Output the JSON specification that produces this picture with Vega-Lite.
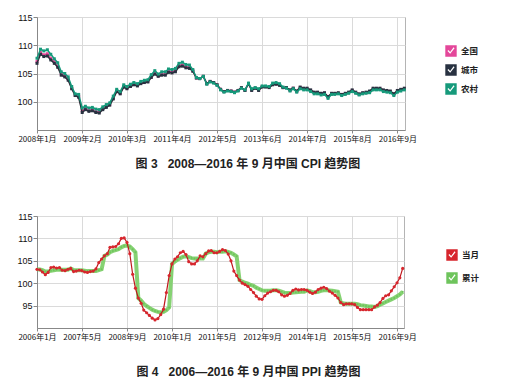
{
"$schema": "https://vega.github.io/schema/vega-lite/v6.json",
"background": "white",
"padding": {"left": 16, "top": 12, "right": 5, "bottom": 0},
"spacing": 40,
"resolve": {"scale": {"x": "independent", "y": "independent", "color": "independent"}, "axis": {"x": "independent", "y": "independent"}, "legend": {"color": "independent"}},
"config": {
  "font": "'Liberation Sans Narrow', 'Noto Sans CJK SC'",
  "view": {"stroke": "#b4b4b4"},
  "axis": {"labelFont": "'Liberation Sans Narrow', 'Noto Sans CJK SC'", "labelFontSize": 8, "labelColor": "#111", "gridColor": "#dadada", "domainColor": "#888", "tickColor": "#888", "tickSize": 3, "labelPadding": 2},
  "axisY": {"labelFont": "'Liberation Sans', 'Noto Sans CJK SC'", "labelFontSize": 9, "labelOverlap": false, "tickSize": 4, "labelPadding": 1},
  "legend": {"padding": 0, "labelFont": "'Noto Sans CJK SC'", "labelFontSize": 8.5, "labelFontWeight": "bold", "labelColor": "#222", "labelOffset": 4, "symbolStrokeWidth": 0, "symbolType": "M-1,-1H1V1H-1Z M-0.62,0 L-0.15,0.5 L0.62,-0.5 L0.46,-0.66 L-0.15,0.16 L-0.46,-0.16Z", "symbolSize": 130}
},
"datasets": {
"cpi": [
{"d":"2008-01-01","n":107.1,"u":106.8,"r":107.7},
{"d":"2008-02-01","n":108.7,"u":108.4,"r":109.3},
{"d":"2008-03-01","n":108.3,"u":108.0,"r":109.0},
{"d":"2008-04-01","n":108.5,"u":108.1,"r":109.2},
{"d":"2008-05-01","n":107.7,"u":107.4,"r":108.4},
{"d":"2008-06-01","n":107.1,"u":106.8,"r":107.6},
{"d":"2008-07-01","n":106.3,"u":106.1,"r":106.9},
{"d":"2008-08-01","n":104.9,"u":104.7,"r":105.3},
{"d":"2008-09-01","n":104.6,"u":104.4,"r":105.0},
{"d":"2008-10-01","n":104.0,"u":103.8,"r":104.4},
{"d":"2008-11-01","n":102.4,"u":102.3,"r":102.7},
{"d":"2008-12-01","n":101.2,"u":101.1,"r":101.4},
{"d":"2009-01-01","n":101.0,"u":100.8,"r":101.3},
{"d":"2009-02-01","n":98.4,"u":98.1,"r":98.9},
{"d":"2009-03-01","n":98.8,"u":98.6,"r":99.2},
{"d":"2009-04-01","n":98.5,"u":98.3,"r":98.9},
{"d":"2009-05-01","n":98.6,"u":98.4,"r":99.0},
{"d":"2009-06-01","n":98.3,"u":98.1,"r":98.7},
{"d":"2009-07-01","n":98.2,"u":98.0,"r":98.6},
{"d":"2009-08-01","n":98.8,"u":98.6,"r":99.1},
{"d":"2009-09-01","n":99.2,"u":99.0,"r":99.5},
{"d":"2009-10-01","n":99.5,"u":99.4,"r":99.8},
{"d":"2009-11-01","n":100.6,"u":100.5,"r":101.0},
{"d":"2009-12-01","n":101.9,"u":101.8,"r":102.2},
{"d":"2010-01-01","n":101.5,"u":101.4,"r":101.8},
{"d":"2010-02-01","n":102.7,"u":102.6,"r":103.0},
{"d":"2010-03-01","n":102.4,"u":102.3,"r":102.7},
{"d":"2010-04-01","n":102.8,"u":102.7,"r":103.1},
{"d":"2010-05-01","n":103.1,"u":103.0,"r":103.4},
{"d":"2010-06-01","n":102.9,"u":102.8,"r":103.2},
{"d":"2010-07-01","n":103.3,"u":103.2,"r":103.6},
{"d":"2010-08-01","n":103.5,"u":103.4,"r":103.8},
{"d":"2010-09-01","n":103.6,"u":103.5,"r":103.9},
{"d":"2010-10-01","n":104.4,"u":104.3,"r":104.8},
{"d":"2010-11-01","n":105.1,"u":104.9,"r":105.5},
{"d":"2010-12-01","n":104.6,"u":104.5,"r":104.9},
{"d":"2011-01-01","n":104.9,"u":104.7,"r":105.3},
{"d":"2011-02-01","n":104.9,"u":104.7,"r":105.3},
{"d":"2011-03-01","n":105.4,"u":105.2,"r":105.8},
{"d":"2011-04-01","n":105.3,"u":105.1,"r":105.7},
{"d":"2011-05-01","n":105.5,"u":105.3,"r":105.9},
{"d":"2011-06-01","n":106.4,"u":106.2,"r":106.8},
{"d":"2011-07-01","n":106.5,"u":106.3,"r":107.0},
{"d":"2011-08-01","n":106.2,"u":106.0,"r":106.6},
{"d":"2011-09-01","n":106.1,"u":105.9,"r":106.5},
{"d":"2011-10-01","n":105.5,"u":105.4,"r":105.7},
{"d":"2011-11-01","n":104.2,"u":104.2,"r":104.3},
{"d":"2011-12-01","n":104.1,"u":104.1,"r":104.1},
{"d":"2012-01-01","n":104.5,"u":104.5,"r":104.5},
{"d":"2012-02-01","n":103.2,"u":103.2,"r":103.1},
{"d":"2012-03-01","n":103.6,"u":103.6,"r":103.5},
{"d":"2012-04-01","n":103.4,"u":103.4,"r":103.3},
{"d":"2012-05-01","n":103.0,"u":103.0,"r":102.9},
{"d":"2012-06-01","n":102.2,"u":102.2,"r":102.1},
{"d":"2012-07-01","n":101.8,"u":101.8,"r":101.7},
{"d":"2012-08-01","n":102.0,"u":102.0,"r":101.9},
{"d":"2012-09-01","n":101.9,"u":101.9,"r":101.8},
{"d":"2012-10-01","n":101.7,"u":101.7,"r":101.6},
{"d":"2012-11-01","n":102.0,"u":102.0,"r":101.9},
{"d":"2012-12-01","n":102.5,"u":102.5,"r":102.4},
{"d":"2013-01-01","n":102.0,"u":102.0,"r":102.1},
{"d":"2013-02-01","n":103.2,"u":103.2,"r":103.3},
{"d":"2013-03-01","n":102.1,"u":102.0,"r":102.3},
{"d":"2013-04-01","n":102.4,"u":102.4,"r":102.5},
{"d":"2013-05-01","n":102.1,"u":102.0,"r":102.3},
{"d":"2013-06-01","n":102.7,"u":102.6,"r":102.8},
{"d":"2013-07-01","n":102.7,"u":102.6,"r":102.8},
{"d":"2013-08-01","n":102.6,"u":102.5,"r":102.7},
{"d":"2013-09-01","n":103.1,"u":103.0,"r":103.3},
{"d":"2013-10-01","n":103.2,"u":103.1,"r":103.4},
{"d":"2013-11-01","n":103.0,"u":102.9,"r":103.2},
{"d":"2013-12-01","n":102.5,"u":102.5,"r":102.6},
{"d":"2014-01-01","n":102.5,"u":102.5,"r":102.4},
{"d":"2014-02-01","n":102.0,"u":102.1,"r":101.9},
{"d":"2014-03-01","n":102.4,"u":102.4,"r":102.3},
{"d":"2014-04-01","n":101.8,"u":101.9,"r":101.7},
{"d":"2014-05-01","n":102.5,"u":102.6,"r":102.3},
{"d":"2014-06-01","n":102.3,"u":102.4,"r":102.1},
{"d":"2014-07-01","n":102.3,"u":102.4,"r":102.1},
{"d":"2014-08-01","n":102.0,"u":102.1,"r":101.8},
{"d":"2014-09-01","n":101.6,"u":101.7,"r":101.4},
{"d":"2014-10-01","n":101.6,"u":101.7,"r":101.4},
{"d":"2014-11-01","n":101.4,"u":101.5,"r":101.2},
{"d":"2014-12-01","n":101.5,"u":101.6,"r":101.3},
{"d":"2015-01-01","n":100.8,"u":100.9,"r":100.6},
{"d":"2015-02-01","n":101.4,"u":101.5,"r":101.3},
{"d":"2015-03-01","n":101.4,"u":101.5,"r":101.3},
{"d":"2015-04-01","n":101.5,"u":101.6,"r":101.4},
{"d":"2015-05-01","n":101.2,"u":101.3,"r":101.1},
{"d":"2015-06-01","n":101.4,"u":101.5,"r":101.3},
{"d":"2015-07-01","n":101.6,"u":101.7,"r":101.5},
{"d":"2015-08-01","n":102.0,"u":102.1,"r":101.8},
{"d":"2015-09-01","n":101.6,"u":101.7,"r":101.5},
{"d":"2015-10-01","n":101.3,"u":101.4,"r":101.2},
{"d":"2015-11-01","n":101.5,"u":101.6,"r":101.4},
{"d":"2015-12-01","n":101.6,"u":101.7,"r":101.5},
{"d":"2016-01-01","n":101.8,"u":101.9,"r":101.6},
{"d":"2016-02-01","n":102.3,"u":102.4,"r":102.1},
{"d":"2016-03-01","n":102.3,"u":102.4,"r":102.1},
{"d":"2016-04-01","n":102.3,"u":102.4,"r":102.1},
{"d":"2016-05-01","n":102.0,"u":102.1,"r":101.8},
{"d":"2016-06-01","n":101.9,"u":102.0,"r":101.7},
{"d":"2016-07-01","n":101.8,"u":101.9,"r":101.6},
{"d":"2016-08-01","n":101.3,"u":101.4,"r":101.1},
{"d":"2016-09-01","n":101.9,"u":102.0,"r":101.7},
{"d":"2016-10-01","n":102.1,"u":102.2,"r":101.9},
{"d":"2016-11-01","n":102.3,"u":102.4,"r":102.1}
],
"ppi": [
{"d":"2006-01-01","m":103.1,"c":103.1},
{"d":"2006-02-01","m":103.0,"c":103.05},
{"d":"2006-03-01","m":102.5,"c":102.9},
{"d":"2006-04-01","m":101.9,"c":102.6},
{"d":"2006-05-01","m":102.4,"c":102.6},
{"d":"2006-06-01","m":103.5,"c":102.8},
{"d":"2006-07-01","m":103.6,"c":102.9},
{"d":"2006-08-01","m":103.4,"c":103.0},
{"d":"2006-09-01","m":103.5,"c":103.0},
{"d":"2006-10-01","m":102.9,"c":103.0},
{"d":"2006-11-01","m":102.8,"c":103.0},
{"d":"2006-12-01","m":103.1,"c":103.0},
{"d":"2007-01-01","m":103.3,"c":103.3},
{"d":"2007-02-01","m":102.6,"c":102.95},
{"d":"2007-03-01","m":102.7,"c":102.9},
{"d":"2007-04-01","m":102.9,"c":102.9},
{"d":"2007-05-01","m":102.8,"c":102.9},
{"d":"2007-06-01","m":102.5,"c":102.8},
{"d":"2007-07-01","m":102.4,"c":102.7},
{"d":"2007-08-01","m":102.6,"c":102.7},
{"d":"2007-09-01","m":102.7,"c":102.7},
{"d":"2007-10-01","m":103.2,"c":102.7},
{"d":"2007-11-01","m":104.6,"c":102.9},
{"d":"2007-12-01","m":105.4,"c":103.1},
{"d":"2008-01-01","m":106.1,"c":106.1},
{"d":"2008-02-01","m":106.6,"c":106.4},
{"d":"2008-03-01","m":108.0,"c":106.9},
{"d":"2008-04-01","m":108.1,"c":107.2},
{"d":"2008-05-01","m":108.2,"c":107.4},
{"d":"2008-06-01","m":108.8,"c":107.6},
{"d":"2008-07-01","m":110.0,"c":108.0},
{"d":"2008-08-01","m":110.1,"c":108.3},
{"d":"2008-09-01","m":109.1,"c":108.4},
{"d":"2008-10-01","m":106.6,"c":108.2},
{"d":"2008-11-01","m":102.0,"c":107.6},
{"d":"2008-12-01","m":98.9,"c":106.9},
{"d":"2009-01-01","m":96.7,"c":96.7},
{"d":"2009-02-01","m":95.5,"c":96.1},
{"d":"2009-03-01","m":94.0,"c":95.4},
{"d":"2009-04-01","m":93.4,"c":94.9},
{"d":"2009-05-01","m":92.8,"c":94.5},
{"d":"2009-06-01","m":92.2,"c":94.1},
{"d":"2009-07-01","m":91.8,"c":93.8},
{"d":"2009-08-01","m":92.1,"c":93.6},
{"d":"2009-09-01","m":93.0,"c":93.5},
{"d":"2009-10-01","m":94.2,"c":93.6},
{"d":"2009-11-01","m":97.9,"c":94.0},
{"d":"2009-12-01","m":101.7,"c":94.6},
{"d":"2010-01-01","m":104.3,"c":104.3},
{"d":"2010-02-01","m":105.4,"c":104.85},
{"d":"2010-03-01","m":105.9,"c":105.2},
{"d":"2010-04-01","m":106.8,"c":105.6},
{"d":"2010-05-01","m":107.1,"c":105.9},
{"d":"2010-06-01","m":106.4,"c":106.0},
{"d":"2010-07-01","m":104.8,"c":105.8},
{"d":"2010-08-01","m":104.3,"c":105.6},
{"d":"2010-09-01","m":104.3,"c":105.5},
{"d":"2010-10-01","m":105.0,"c":105.5},
{"d":"2010-11-01","m":106.1,"c":105.5},
{"d":"2010-12-01","m":105.9,"c":105.5},
{"d":"2011-01-01","m":106.6,"c":106.6},
{"d":"2011-02-01","m":107.2,"c":106.9},
{"d":"2011-03-01","m":107.3,"c":107.0},
{"d":"2011-04-01","m":106.8,"c":107.0},
{"d":"2011-05-01","m":106.8,"c":106.9},
{"d":"2011-06-01","m":107.1,"c":107.0},
{"d":"2011-07-01","m":107.5,"c":107.0},
{"d":"2011-08-01","m":107.3,"c":107.1},
{"d":"2011-09-01","m":106.5,"c":107.0},
{"d":"2011-10-01","m":105.0,"c":106.8},
{"d":"2011-11-01","m":102.7,"c":106.4},
{"d":"2011-12-01","m":101.7,"c":106.0},
{"d":"2012-01-01","m":100.7,"c":100.7},
{"d":"2012-02-01","m":100.0,"c":100.35},
{"d":"2012-03-01","m":99.7,"c":100.1},
{"d":"2012-04-01","m":99.3,"c":99.9},
{"d":"2012-05-01","m":98.6,"c":99.6},
{"d":"2012-06-01","m":97.9,"c":99.4},
{"d":"2012-07-01","m":97.1,"c":99.0},
{"d":"2012-08-01","m":96.5,"c":98.7},
{"d":"2012-09-01","m":96.4,"c":98.4},
{"d":"2012-10-01","m":97.2,"c":98.3},
{"d":"2012-11-01","m":97.8,"c":98.3},
{"d":"2012-12-01","m":98.1,"c":98.3},
{"d":"2013-01-01","m":98.4,"c":98.4},
{"d":"2013-02-01","m":98.4,"c":98.4},
{"d":"2013-03-01","m":98.1,"c":98.3},
{"d":"2013-04-01","m":97.4,"c":98.1},
{"d":"2013-05-01","m":97.1,"c":97.9},
{"d":"2013-06-01","m":97.3,"c":97.8},
{"d":"2013-07-01","m":97.7,"c":97.8},
{"d":"2013-08-01","m":98.4,"c":97.9},
{"d":"2013-09-01","m":98.7,"c":98.0},
{"d":"2013-10-01","m":98.5,"c":98.05},
{"d":"2013-11-01","m":98.6,"c":98.1},
{"d":"2013-12-01","m":98.6,"c":98.1},
{"d":"2014-01-01","m":98.4,"c":98.4},
{"d":"2014-02-01","m":98.0,"c":98.2},
{"d":"2014-03-01","m":97.7,"c":98.0},
{"d":"2014-04-01","m":98.0,"c":98.0},
{"d":"2014-05-01","m":98.6,"c":98.1},
{"d":"2014-06-01","m":98.9,"c":98.3},
{"d":"2014-07-01","m":99.1,"c":98.4},
{"d":"2014-08-01","m":98.8,"c":98.5},
{"d":"2014-09-01","m":98.2,"c":98.4},
{"d":"2014-10-01","m":97.8,"c":98.3},
{"d":"2014-11-01","m":97.3,"c":98.2},
{"d":"2014-12-01","m":96.7,"c":98.1},
{"d":"2015-01-01","m":95.7,"c":95.7},
{"d":"2015-02-01","m":95.2,"c":95.45},
{"d":"2015-03-01","m":95.4,"c":95.4},
{"d":"2015-04-01","m":95.4,"c":95.4},
{"d":"2015-05-01","m":95.4,"c":95.4},
{"d":"2015-06-01","m":95.2,"c":95.4},
{"d":"2015-07-01","m":94.6,"c":95.3},
{"d":"2015-08-01","m":94.1,"c":95.1},
{"d":"2015-09-01","m":94.1,"c":95.0},
{"d":"2015-10-01","m":94.1,"c":94.9},
{"d":"2015-11-01","m":94.1,"c":94.8},
{"d":"2015-12-01","m":94.1,"c":94.8},
{"d":"2016-01-01","m":94.7,"c":94.7},
{"d":"2016-02-01","m":95.1,"c":94.9},
{"d":"2016-03-01","m":95.7,"c":95.2},
{"d":"2016-04-01","m":96.6,"c":95.5},
{"d":"2016-05-01","m":97.2,"c":95.8},
{"d":"2016-06-01","m":97.4,"c":96.1},
{"d":"2016-07-01","m":98.3,"c":96.4},
{"d":"2016-08-01","m":99.2,"c":96.7},
{"d":"2016-09-01","m":100.1,"c":97.1},
{"d":"2016-10-01","m":101.2,"c":97.5},
{"d":"2016-11-01","m":103.3,"c":98.1}
]
},
"vconcat": [
{
  "width": 368, "height": 113,
  "data": {"name": "cpi"},
  "transform": [{"fold": ["n", "u", "r"], "as": ["k", "v"]}],
  "title": {"text": "图 3\u00a0\u00a0 2008—2016 年 9 月中国 CPI 趋势图", "orient": "bottom", "anchor": "middle", "frame": "bounds", "offset": 16, "fontSize": 12, "fontWeight": "bold", "font": "'Liberation Sans', 'Noto Sans CJK SC'", "color": "#222"},
  "encoding": {
    "x": {"field": "d", "type": "temporal", "title": null,
      "scale": {"type": "utc", "domain": [{"year": 2008, "month": 1, "date": 1, "utc": true}, {"year": 2016, "month": 11, "date": 7, "utc": true}]},
      "axis": {"labelExpr": "utcFormat(datum.value, '%Y年%-m月')", "labelFlush": false, "values": [
        {"year": 2008, "month": 1, "date": 1, "utc": true},
        {"year": 2009, "month": 2, "date": 1, "utc": true},
        {"year": 2010, "month": 3, "date": 1, "utc": true},
        {"year": 2011, "month": 4, "date": 1, "utc": true},
        {"year": 2012, "month": 5, "date": 1, "utc": true},
        {"year": 2013, "month": 6, "date": 1, "utc": true},
        {"year": 2014, "month": 7, "date": 1, "utc": true},
        {"year": 2015, "month": 8, "date": 1, "utc": true},
        {"year": 2016, "month": 9, "date": 1, "utc": true}]}},
    "y": {"field": "v", "type": "quantitative", "title": null, "scale": {"domain": [95, 115], "zero": false, "nice": false}, "axis": {"values": [100, 105, 110, 115]}}
  },
  "layer": [
    {"transform": [{"filter": "datum.k === 'n'"}], "mark": {"type": "line", "strokeWidth": 1.5, "color": "#d94a8c"}},
    {"transform": [{"filter": "datum.k === 'n'"}], "mark": {"type": "point", "shape": "square", "filled": true, "size": 9, "opacity": 1},
     "encoding": {"color": {"datum": "全国", "scale": {"domain": ["全国", "城市", "农村"], "range": ["#e4479a", "#283241", "#169a7b"]}, "legend": {"orient": "none", "legendX": 408, "legendY": 28, "rowPadding": 7, "title": null, "symbolOpacity": 1}}}},
    {"transform": [{"filter": "datum.k === 'u'"}], "mark": {"type": "line", "strokeWidth": 1.5, "color": "#2a3038"}},
    {"transform": [{"filter": "datum.k === 'u'"}], "mark": {"type": "point", "shape": "square", "filled": true, "size": 9, "opacity": 1},
     "encoding": {"color": {"datum": "城市"}}},
    {"transform": [{"filter": "datum.k === 'r'"}], "mark": {"type": "line", "strokeWidth": 1.5, "color": "#13977a"}},
    {"transform": [{"filter": "datum.k === 'r'"}], "mark": {"type": "point", "shape": "square", "filled": true, "size": 9, "opacity": 1},
     "encoding": {"color": {"datum": "农村"}}}
  ]
},
{
  "width": 367, "height": 112,
  "data": {"name": "ppi"},
  "transform": [{"fold": ["c", "m"], "as": ["k", "v"]}],
  "title": {"text": "图 4\u00a0\u00a0 2006—2016 年 9 月中国 PPI 趋势图", "orient": "bottom", "anchor": "middle", "frame": "bounds", "offset": 26, "fontSize": 12, "fontWeight": "bold", "font": "'Liberation Sans', 'Noto Sans CJK SC'", "color": "#222"},
  "encoding": {
    "x": {"field": "d", "type": "temporal", "title": null,
      "scale": {"type": "utc", "domain": [{"year": 2006, "month": 1, "date": 1, "utc": true}, {"year": 2016, "month": 11, "date": 15, "utc": true}]},
      "axis": {"labelExpr": "utcFormat(datum.value, '%Y年%-m月')", "labelFlush": false, "values": [
        {"year": 2006, "month": 1, "date": 1, "utc": true},
        {"year": 2007, "month": 5, "date": 1, "utc": true},
        {"year": 2008, "month": 9, "date": 1, "utc": true},
        {"year": 2010, "month": 1, "date": 1, "utc": true},
        {"year": 2011, "month": 5, "date": 1, "utc": true},
        {"year": 2012, "month": 9, "date": 1, "utc": true},
        {"year": 2014, "month": 1, "date": 1, "utc": true},
        {"year": 2015, "month": 5, "date": 1, "utc": true},
        {"year": 2016, "month": 9, "date": 1, "utc": true}]}},
    "y": {"field": "v", "type": "quantitative", "title": null, "scale": {"domain": [90, 115], "zero": false, "nice": false}, "axis": {"values": [95, 100, 105, 110, 115]}}
  },
  "layer": [
    {"transform": [{"filter": "datum.k === 'c'"}], "mark": {"type": "line", "strokeWidth": 4, "color": "#7fd06b", "opacity": 0.95}},
    {"transform": [{"filter": "datum.k === 'c'"}], "mark": {"type": "point", "shape": "circle", "filled": true, "size": 4, "opacity": 1},
     "encoding": {"color": {"datum": "累计", "scale": {"domain": ["当月", "累计"], "range": ["#d7262d", "#6ec45c"]}, "legend": {"orient": "none", "legendX": 409, "legendY": 33, "rowPadding": 11, "title": null, "symbolOpacity": 1}}}},
    {"transform": [{"filter": "datum.k === 'm'"}], "mark": {"type": "line", "strokeWidth": 1.2, "color": "#c0161c"}},
    {"transform": [{"filter": "datum.k === 'm'"}], "mark": {"type": "point", "shape": "circle", "filled": true, "size": 10, "opacity": 1},
     "encoding": {"color": {"datum": "当月"}}}
  ]
}
]
}
